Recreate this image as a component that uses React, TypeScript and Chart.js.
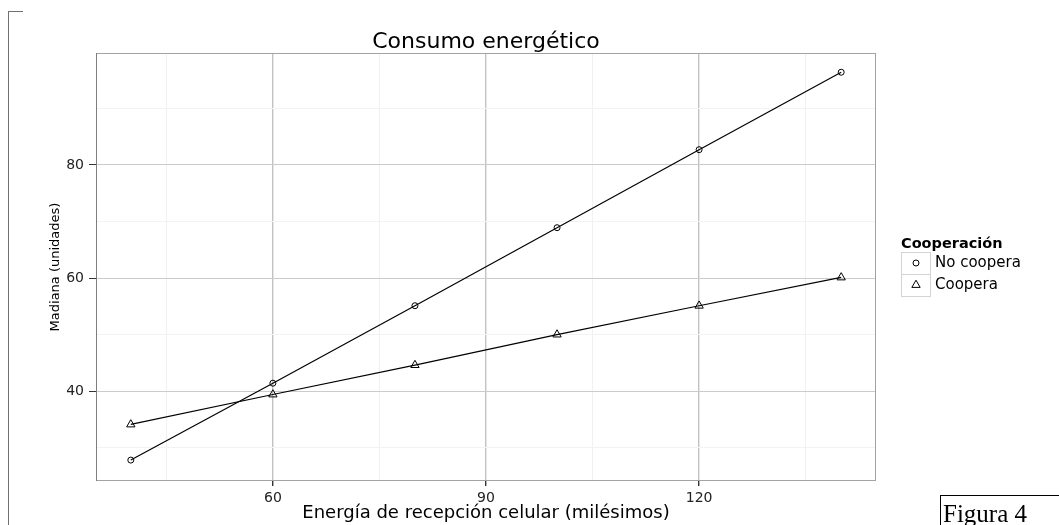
import React, { useEffect, useRef } from 'react';
import { Chart, registerables } from 'chart.js';

Chart.register(...registerables);

// ---- Data ----
const energia = [40, 60, 80, 100, 120, 140];
const noCoopera = [27.8, 41.4, 55.1, 68.9, 82.7, 96.4];
const coopera = [34.1, 39.4, 44.6, 50.0, 55.1, 60.1];
const seriesNames = ['No coopera', 'Coopera'];
const xGridValues = [45, 60, 75, 90, 105, 120, 135];
const xTickLabels = [60, 90, 120];
const yGridValues = [30, 40, 50, 60, 70, 80, 90];
const yTickLabels = [40, 60, 80];
const titleText = 'Consumo energético';
const xTitle = 'Energía de recepción celular (milésimos)';
const yTitle = 'Madiana (unidades)';
const legendTitle = 'Cooperación';
const figureLabel = 'Figura 4';

const FONT = '"DejaVu Sans", Verdana, sans-serif';

function drawMarker(ctx: CanvasRenderingContext2D, style: string, r: number, x: number, y: number) {
  ctx.beginPath();
  if (style === 'triangle') {
    ctx.moveTo(x, y - r);
    ctx.lineTo(x + r * Math.sin(Math.PI / 3), y + r / 2);
    ctx.lineTo(x - r * Math.sin(Math.PI / 3), y + r / 2);
    ctx.closePath();
  } else {
    ctx.arc(x, y, r, 0, Math.PI * 2);
  }
  ctx.stroke();
}

const panelBorder = {
  id: 'panelBorder',
  beforeDatasetsDraw(chart: any) {
    const { ctx, chartArea: a } = chart;
    ctx.save();
    ctx.lineWidth = 1;
    ctx.strokeStyle = '#a3a3a3';
    ctx.strokeRect(Math.round(a.left) + 0.5, Math.round(a.top) + 0.5, Math.round(a.right - a.left) - 1, Math.round(a.bottom - a.top) - 1);
    ctx.strokeStyle = '#7d7d7d';
    ctx.beginPath();
    ctx.moveTo(Math.round(a.left) + 0.5, a.top);
    ctx.lineTo(Math.round(a.left) + 0.5, a.bottom);
    ctx.stroke();
    ctx.restore();
  },
};

const ggLegend = {
  id: 'ggLegend',
  afterDraw(chart: any) {
    const ctx: CanvasRenderingContext2D = chart.ctx;
    ctx.save();
    ctx.textAlign = 'left';
    ctx.textBaseline = 'middle';
    ctx.fillStyle = '#000';
    ctx.font = `bold 14.5px ${FONT}`;
    ctx.fillText(legendTitle, 901, 244);
    chart.data.datasets.forEach((ds: any, i: number) => {
      const top = 252 + i * 22;
      ctx.fillStyle = '#fff';
      ctx.fillRect(901, top, 30, 22);
      ctx.strokeStyle = '#d4d4d4';
      ctx.lineWidth = 1;
      ctx.strokeRect(901.5, top + 0.5, 29, 22);
      ctx.strokeStyle = '#000';
      ctx.lineWidth = 1;
      drawMarker(ctx, ds.pointStyle, ds.pointRadius, 916, top + 11);
      ctx.fillStyle = '#000';
      ctx.font = `15px ${FONT}`;
      ctx.fillText(ds.label, 935, top + 11.5);
    });
    ctx.restore();
  },
};

export default function App() {
  const canvasRef = useRef<HTMLCanvasElement | null>(null);

  useEffect(() => {
    const canvas = canvasRef.current;
    if (!canvas) return;
    const chart = new Chart(canvas, {
      type: 'line',
      data: {
        datasets: [
          {
            label: seriesNames[0],
            data: energia.map((x, i) => ({ x, y: noCoopera[i] })),
            borderColor: '#000',
            borderWidth: 1.2,
            pointStyle: 'circle',
            pointRadius: 3,
            pointBorderWidth: 1,
            pointBorderColor: '#000',
            pointBackgroundColor: 'rgba(0,0,0,0)',
            tension: 0,
          },
          {
            label: seriesNames[1],
            data: energia.map((x, i) => ({ x, y: coopera[i] })),
            borderColor: '#000',
            borderWidth: 1.2,
            pointStyle: 'triangle',
            pointRadius: 4.8,
            pointBorderWidth: 1,
            pointBorderColor: '#000',
            pointBackgroundColor: 'rgba(0,0,0,0)',
            tension: 0,
          },
        ],
      },
      options: {
        animation: false,
        responsive: false,
        devicePixelRatio: 1,
        layout: { padding: { left: 0, right: 183, top: 0, bottom: 0 } },
        plugins: {
          legend: { display: false },
          tooltip: { enabled: false },
          title: {
            display: true,
            text: titleText,
            fullSize: false,
            color: '#000',
            font: { family: FONT, size: 22, weight: 'normal', lineHeight: 1 },
            padding: { top: 31, bottom: 0 },
          },
        },
        scales: {
          x: {
            type: 'linear',
            min: 35.1,
            max: 144.9,
            afterBuildTicks: (s: any) => {
              s.ticks = xGridValues.map((v) => ({ value: v }));
            },
            afterFit: (s: any) => {
              s.height = 44;
            },
            grid: {
              color: (c: any) => (xTickLabels.includes(c.tick?.value) ? '#c2c2c2' : '#f1f1f1'),
              tickColor: (c: any) => (xTickLabels.includes(c.tick?.value) ? '#333' : 'rgba(0,0,0,0)'),
              tickLength: 5,
              lineWidth: (c: any) => (xTickLabels.includes(c.tick?.value) ? 1.4 : 1),
            },
            border: { display: false },
            ticks: {
              autoSkip: false,
              maxRotation: 0,
              padding: 4,
              color: '#222',
              font: { family: FONT, size: 14 },
              callback: (v: any) => (xTickLabels.includes(Number(v)) ? String(v) : ''),
            },
            title: {
              display: true,
              text: xTitle,
              color: '#000',
              font: { family: FONT, size: 18, lineHeight: 1.2 },
              padding: { top: 0, bottom: 1 },
            },
          },
          y: {
            type: 'linear',
            min: 24.1,
            max: 99.8,
            afterBuildTicks: (s: any) => {
              s.ticks = yGridValues.map((v) => ({ value: v }));
            },
            afterFit: (s: any) => {
              s.width = 96;
            },
            grid: {
              color: (c: any) => (yTickLabels.includes(c.tick?.value) ? '#cbcbcb' : '#f3f3f3'),
              tickColor: (c: any) => (yTickLabels.includes(c.tick?.value) ? '#333' : 'rgba(0,0,0,0)'),
              tickLength: 7,
              lineWidth: 1,
            },
            border: { display: false },
            ticks: {
              autoSkip: false,
              padding: 5,
              color: '#222',
              font: { family: FONT, size: 14 },
              callback: (v: any) => (yTickLabels.includes(Number(v)) ? String(v) : ''),
            },
            title: {
              display: true,
              text: yTitle,
              color: '#000',
              font: { family: FONT, size: 13, lineHeight: 1.2 },
              padding: { top: 48, bottom: 0 },
            },
          },
        },
      },
      plugins: [panelBorder, ggLegend],
    } as any);
    return () => chart.destroy();
  }, []);

  return (
    <div style={{ position: 'fixed', left: 0, top: 0, width: 1059, height: 525, background: '#fff', overflow: 'hidden' }}>
      <canvas ref={canvasRef} width={1059} height={525} style={{ position: 'absolute', left: 0, top: 0 }} />
      <div
        style={{
          position: 'absolute',
          left: 8,
          top: 11,
          width: 14,
          height: 520,
          borderLeft: '1px solid #707070',
          borderTop: '1px solid #707070',
        }}
      />
      <div
        style={{
          position: 'absolute',
          left: 940,
          top: 495,
          width: 125,
          height: 40,
          borderLeft: '1px solid #000',
          borderTop: '1px solid #000',
          paddingLeft: 2,
          paddingTop: 5,
          boxSizing: 'border-box',
          fontFamily: '"Liberation Serif", "Times New Roman", serif',
          fontSize: 25,
          lineHeight: 1,
          color: '#000',
          whiteSpace: 'nowrap',
        }}
      >
        {figureLabel}
      </div>
    </div>
  );
}
